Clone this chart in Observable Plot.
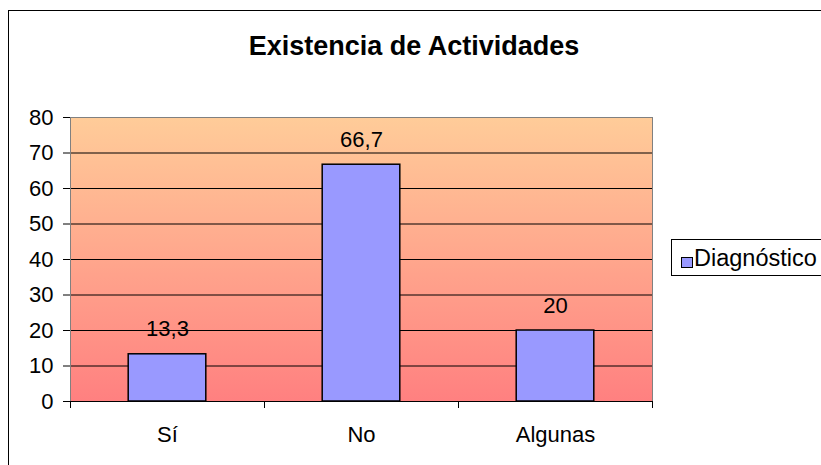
<!DOCTYPE html>
<html>
<head>
<meta charset="utf-8">
<script src="https://cdn.jsdelivr.net/npm/d3@7"></script>
<script src="https://cdn.jsdelivr.net/npm/@observablehq/plot@0.6"></script>
<style>
  body { margin: 0; background: #fff; }
  #wrap { position: relative; width: 821px; height: 465px; overflow: hidden; font-family: "Liberation Sans", Arial, sans-serif; color: #000; }
  #border { position: absolute; left: 8px; top: 10px; width: 900px; height: 600px; border: 1px solid #000; box-sizing: border-box; }
  #title { position: absolute; left: 0; width: 828px; top: 30px; text-align: center; font-weight: bold; font-size: 27px; line-height: 32px; }
  #chart { position: absolute; left: 0; top: 0; }
  #legend { position: absolute; left: 671px; top: 239px; width: 170px; height: 37px; border: 1px solid #000; box-sizing: border-box; background: #fff; font-size: 23.5px; }
  #legend .sw { position: absolute; left: 9px; top: 17px; width: 10px; height: 9px; border: 1px solid #000; }
  #legend .lb { position: absolute; left: 22px; top: 4px; line-height: 28px; white-space: nowrap; }
</style>
</head>
<body>
<div id="wrap">
  <div id="border"></div>
  <div id="chart"></div>
  <div id="title"></div>
  <div id="legend"><div class="sw"></div><div class="lb"></div></div>
</div>
<script>
const chartTitle = "Existencia de Actividades";
const seriesName = "Diagnóstico";
const categories = ["Sí", "No", "Algunas"];
const values = [13.3, 66.7, 20];
const valueLabels = ["13,3", "66,7", "20"];
const yTicks = [0, 10, 20, 30, 40, 50, 60, 70, 80];
const barColor = "#9999ff";

const rows = categories.map((c, i) => ({cat: c, i, value: values[i], label: valueLabels[i]}));
const boundaries = d3.range(categories.length + 1);
const centers = categories.map((c, i) => i + 0.5);

document.getElementById("title").textContent = chartTitle;
document.querySelector("#legend .lb").textContent = seriesName;
document.querySelector("#legend .sw").style.background = barColor;

const chart = Plot.plot({
  width: 821,
  height: 465,
  marginLeft: 70,
  marginRight: 169,
  marginTop: 117,
  marginBottom: 64,
  style: { fontFamily: "'Liberation Sans', Arial, sans-serif", fontSize: "22px", background: "transparent", color: "#000", overflow: "visible" },
  x: { domain: [0, categories.length], label: null },
  y: { domain: [0, 80], label: null },
  marks: [
    Plot.frame({ fill: "url(#bg)", stroke: "none" }),
    Plot.ruleY(yTicks.filter(t => t > 0 && t < 80), { stroke: "#000", strokeWidth: 1 }),
    Plot.frame({ stroke: "#808080", strokeWidth: 1 }),
    Plot.ruleY([0], { stroke: "#000", strokeWidth: 1 }),
    Plot.rect(rows, { x1: d => d.i + 0.3, x2: d => d.i + 0.7, y1: () => 0, y2: "value", fill: barColor, stroke: "#000", strokeWidth: 1.5 }),
    Plot.text(rows, { x: d => d.i + 0.5, y: "value", text: "label", dy: -25, fill: "#000" }),
    Plot.axisY({ ticks: yTicks, tickSize: 7, tickPadding: 10, tickFormat: d => String(d), label: null }),
    Plot.axisX({ ticks: boundaries, tickSize: 7, tickFormat: () => "", label: null }),
    Plot.axisX({ ticks: centers, tickSize: 0, tickPadding: 25, tickFormat: d => categories[Math.floor(d)], label: null })
  ]
});

d3.select(chart).insert("defs", ":first-child").html(
  '<linearGradient id="bg" x1="0" y1="0" x2="0" y2="1">' +
  '<stop offset="0" stop-color="#ffcc99"/>' +
  '<stop offset="1" stop-color="#ff8080"/>' +
  '</linearGradient>'
);

document.getElementById("chart").appendChild(chart);
</script>
</body>
</html>
